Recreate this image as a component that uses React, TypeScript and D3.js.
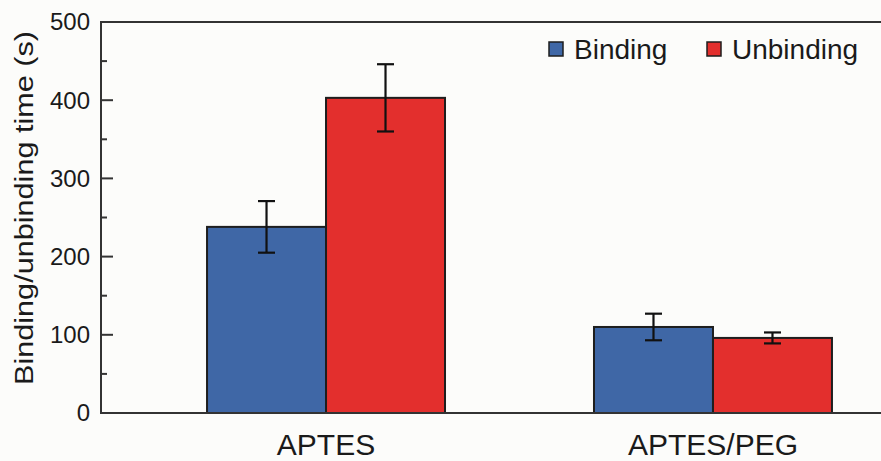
import React, { useRef, useEffect } from 'react';
import * as d3 from 'd3';

const categories = ['APTES', 'APTES/PEG'];
const series = ['Binding', 'Unbinding'];
const bindingMeans = [238, 110];
const bindingErrors = [33, 17];
const unbindingMeans = [403, 96];
const unbindingErrors = [43, 7];
const yTicks = [0, 100, 200, 300, 400, 500];
const yMinorTicks = [50, 150, 250, 350, 450];

const COLORS = {
    Binding: '#3f67a6',
    Unbinding: '#e32f2d',
    stroke: '#1e1e1e',
    axis: '#333333',
    text: '#1a1a1a',
    bg: '#fcfcfa',
};

const W = 881;
const H = 461;

const App: React.FC = () => {
    const ref = useRef<SVGSVGElement>(null);

    useEffect(() => {
        if (!ref.current) return;
        const svg = d3.select(ref.current);
        svg.selectAll('*').remove();

        const left = 101, top = 22, bottom = 413;
        const font = "'Liberation Sans', Arial, Helvetica, sans-serif";

        svg.append('rect').attr('width', W).attr('height', H).attr('fill', COLORS.bg);

        const y = d3.scaleLinear().domain([0, 500]).range([bottom, top]);
        const x0 = d3.scaleBand<string>().domain(categories).range([left, 938])
            .paddingInner(0.385).paddingOuter(0.274);
        const x1 = d3.scaleBand<string>().domain(series).range([0, x0.bandwidth()]);

        const rows = categories.map((c, i) => ({
            cat: c,
            vals: [
                { key: 'Binding', v: bindingMeans[i], e: bindingErrors[i] },
                { key: 'Unbinding', v: unbindingMeans[i], e: unbindingErrors[i] },
            ],
        }));

        const g = svg.append('g');
        const groups = g.selectAll('g.grp').data(rows).enter().append('g')
            .attr('transform', d => `translate(${x0(d.cat)},0)`);

        groups.selectAll('rect').data(d => d.vals).enter().append('rect')
            .attr('x', d => x1(d.key) as number)
            .attr('y', d => y(d.v))
            .attr('width', x1.bandwidth())
            .attr('height', d => y(0) - y(d.v))
            .attr('fill', d => (COLORS as any)[d.key])
            .attr('stroke', COLORS.stroke)
            .attr('stroke-width', 2);

        const cap = 8.5;
        const err = groups.selectAll('g.err').data(d => d.vals).enter().append('g')
            .attr('stroke', '#111').attr('stroke-width', 2.2);
        err.append('line')
            .attr('x1', d => (x1(d.key) as number) + x1.bandwidth() / 2)
            .attr('x2', d => (x1(d.key) as number) + x1.bandwidth() / 2)
            .attr('y1', d => y(d.v + d.e))
            .attr('y2', d => y(d.v - d.e));
        err.append('line')
            .attr('x1', d => (x1(d.key) as number) + x1.bandwidth() / 2 - cap)
            .attr('x2', d => (x1(d.key) as number) + x1.bandwidth() / 2 + cap)
            .attr('y1', d => y(d.v + d.e)).attr('y2', d => y(d.v + d.e));
        err.append('line')
            .attr('x1', d => (x1(d.key) as number) + x1.bandwidth() / 2 - cap)
            .attr('x2', d => (x1(d.key) as number) + x1.bandwidth() / 2 + cap)
            .attr('y1', d => y(d.v - d.e)).attr('y2', d => y(d.v - d.e));

        // frame: left, top, bottom
        svg.append('path')
            .attr('d', `M${W},${top}H${left}V${bottom}H${W}`)
            .attr('fill', 'none').attr('stroke', COLORS.axis).attr('stroke-width', 2);

        // y ticks (inward)
        svg.selectAll('line.major').data(yTicks.slice(1, -1)).enter().append('line')
            .attr('x1', left).attr('x2', left + 12)
            .attr('y1', d => y(d)).attr('y2', d => y(d))
            .attr('stroke', COLORS.axis).attr('stroke-width', 2);
        svg.selectAll('line.minor').data(yMinorTicks).enter().append('line')
            .attr('x1', left).attr('x2', left + 6)
            .attr('y1', d => y(d)).attr('y2', d => y(d))
            .attr('stroke', COLORS.axis).attr('stroke-width', 2);

        svg.selectAll('text.ytick').data(yTicks).enter().append('text')
            .attr('x', left - 11).attr('y', d => y(d))
            .attr('dy', '0.35em')
            .attr('text-anchor', 'end')
            .style('font-family', font).style('font-size', '24px')
            .style('fill', COLORS.text)
            .text(d => String(d));

        svg.selectAll('text.xcat').data(categories).enter().append('text')
            .attr('x', d => (x0(d) as number) + x0.bandwidth() / 2)
            .attr('y', 455)
            .attr('text-anchor', 'middle')
            .style('font-family', font).style('font-size', '30px')
            .style('fill', COLORS.text)
            .text(d => d);

        svg.append('text')
            .attr('transform', `translate(33,208) rotate(-90)`)
            .attr('text-anchor', 'middle')
            .attr('textLength', 354)
            .attr('lengthAdjust', 'spacingAndGlyphs')
            .style('font-family', font).style('font-size', '26px')
            .style('fill', COLORS.text)
            .text('Binding/unbinding time (s)');

        // legend
        const legendX = [549, 707];
        const leg = svg.selectAll('g.leg').data(series).enter().append('g')
            .attr('transform', (d, i) => `translate(${legendX[i]},42)`);
        leg.append('rect')
            .attr('width', 14).attr('height', 14)
            .attr('fill', d => (COLORS as any)[d])
            .attr('stroke', COLORS.stroke).attr('stroke-width', 1.5);
        leg.append('text')
            .attr('x', 25).attr('y', 17)
            .style('font-family', font).style('font-size', '28px')
            .style('fill', COLORS.text)
            .text(d => d);
    }, []);

    return (
        <svg ref={ref} width={W} height={H}
            style={{ position: 'absolute', left: 0, top: 0, display: 'block' }} />
    );
};

export default App;
